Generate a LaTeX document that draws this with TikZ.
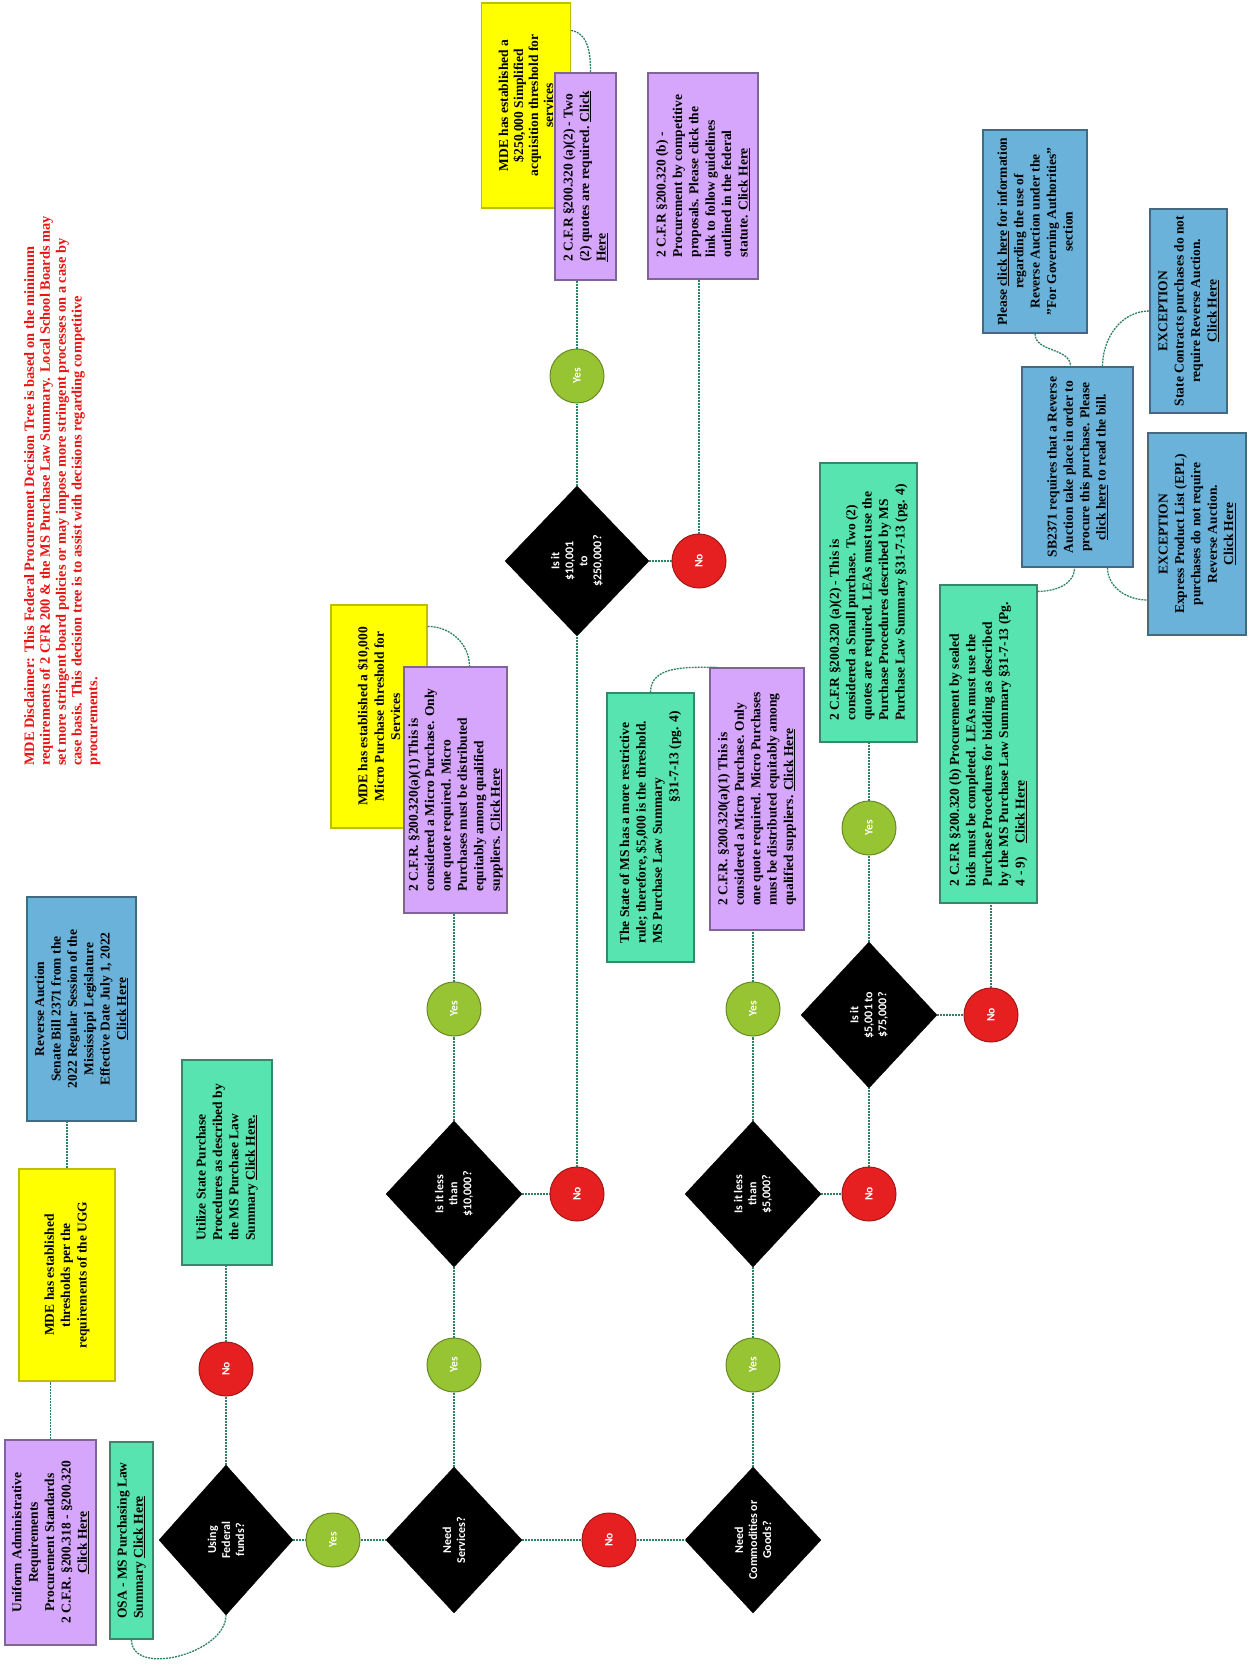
\documentclass[tikz,border=0pt]{standalone}
\usepackage{fontspec}
\setmainfont{Liberation Serif}
\newfontfamily\decfont{Carlito}
\usetikzlibrary{shapes.geometric}

\definecolor{boxpurple}{RGB}{214,166,252}
\definecolor{boxyellow}{RGB}{255,255,0}
\definecolor{boxgreen}{RGB}{88,228,176}
\definecolor{boxblue}{RGB}{107,178,218}
\definecolor{nored}{RGB}{230,32,32}
\definecolor{yesgreen}{RGB}{150,196,50}
\definecolor{linkgreen}{RGB}{46,130,100}
\definecolor{discred}{RGB}{235,20,20}

\begin{document}
\begin{tikzpicture}[x=1pt,y=1pt,
  box/.style={rotate=90, draw, line width=1.2pt, inner sep=3pt,
    font=\fontsize{13.5}{16.4}\selectfont\bfseries},
  purplebox/.style={box, fill=boxpurple, draw=boxpurple!60!black},
  yellowbox/.style={box, fill=boxyellow, draw=boxyellow!75!black},
  greenbox/.style={box, fill=boxgreen, draw=boxgreen!60!black},
  bluebox/.style={box, fill=boxblue, draw=boxblue!60!black},
  decision/.style={diamond, rotate=90, fill=black, draw=black, text=white,
    align=center, inner sep=0pt, minimum width=146, minimum height=136,
    font=\decfont\fontsize{12}{14}\selectfont\bfseries},
  yesdot/.style={circle, rotate=90, fill=yesgreen, draw=yesgreen!70!black, line width=1pt,
    text=white, minimum size=54, inner sep=0pt, font=\decfont\fontsize{11.5}{12}\selectfont\bfseries},
  nodot/.style={yesdot, fill=nored, draw=nored!70!black},
  link/.style={draw=linkgreen, line width=1.3pt, dash pattern=on 2pt off 1pt}]
  \fill[white] (0,0) rectangle (1259,-1675);
  \useasboundingbox (0,0) rectangle (1259,-1675);

  \node[rotate=90, anchor=north west, align=left, inner sep=0pt, text=discred,
    font=\fontsize{14.4}{15.8}\selectfont\bfseries] (disclaimer) at (24,-766)
    {MDE Disclaimer:  This Federal Procurement Decision Tree is based on the minimum\\
     requirements of 2 CFR 200 \& the MS Purchase Law Summary.  Local School Boards may\\
     set more stringent board policies or may impose more stringent processes on a case by\\
     case basis.  This decision tree is to assist with decisions regarding competitive\\
     procurements.}; %Disclaimer

  % left column
  \node[purplebox, align=center, minimum width=205, minimum height=91] (uar) at (50.5,-1542.5)
    {Uniform Administrative\\ Requirements\\ Procurement Standards\\ 2 C.F.R. §200.318 - §200.320\\ \underline{Click Here}};
  \node[yellowbox, align=center, minimum width=212, minimum height=96] (ugg) at (67,-1275)
    {MDE has established\\ thresholds per the\\ requirements of the UGG};
  \node[bluebox, align=center, minimum width=224, minimum height=109] (rauction) at (81.5,-1009)
    {Reverse Auction\\ Senate Bill 2371 from the\\ 2022 Regular Session of the\\ Mississippi Legislature\\ Effective Date July 1, 2022\\ \underline{Click Here}};
  \node[greenbox, align=left, minimum width=197, minimum height=43] (osa) at (131.5,-1540.5)
    {OSA - MS Purchasing Law\\ Summary \underline{Click Here}};
  \node[greenbox, align=left, minimum width=205, minimum height=90] (utilize) at (227,-1162.5)
    {Utilize State Purchase\\ Procedures as described by\\ the MS Purchase Law\\ Summary \underline{Click Here.}};

  % main row
  \node[decision, minimum height=134, minimum width=150] (fed) at (226,-1540) {Using\\ Federal\\ funds?};
  \node[nodot] (no1) at (226,-1369) {No};
  \node[yesdot] (yes1) at (333,-1540) {Yes};
  \node[decision] (services) at (454,-1540) {Need\\ Services?};
  \node[nodot] (no2) at (609,-1540) {No};
  \node[decision] (goods) at (753,-1540) {Need\\ Commodities or\\ Goods?};

  % services branch
  \node[yesdot] (yes2) at (454,-1365) {Yes};
  \node[decision] (less10k) at (454,-1194) {Is it less\\ than\\ \$10,000?};
  \node[yesdot] (yes3) at (454,-1009) {Yes};
  \node[yellowbox, align=center, minimum width=223, minimum height=96] (th10k) at (379,-716.5)
    {MDE has established a \$10,000\\ Micro Purchase threshold for\\ Services};
  \node[purplebox, align=left, minimum width=246, minimum height=103] (micro1) at (455.5,-790)
    {2 C.F.R. §200.320(a)(1) This is\\ considered a Micro Purchase.  Only\\ one quote required.  Micro\\ Purchases must be distributed\\ equitably among qualified\\ suppliers. \underline{Click Here}};
  \node[nodot] (no3) at (577,-1194) {No};
  \node[decision, minimum width=150, minimum height=144] (mid) at (577,-561) {Is it\\ \$10,001\\ to\\ \$250,000?};
  \node[yesdot] (yes4) at (577,-376) {Yes};
  \node[yellowbox, align=center, minimum width=205, minimum height=89,
    font=\fontsize{13.5}{15}\selectfont\bfseries] (th250k) at (526,-105.5)
    {MDE has established a\\ \$250,000 Simplified\\ acquisition threshold for\\ services};
  \node[purplebox, align=left, minimum width=207, minimum height=61] (twoq) at (585.5,-176.5)
    {2 C.F.R §200.320 (a)(2) - Two\\ (2) quotes are required.  \underline{Click}\\ \underline{Here}};
  \node[nodot] (no4) at (699,-561) {No};
  \node[purplebox, align=left, minimum width=206, minimum height=110] (compet) at (703,-176)
    {2 C.F.R §200.320 (b) -\\ Procurement by competitive\\ proposals. Please click the\\ link to follow guidelines\\ outlined in the federal\\ statute. \underline{Click Here}};

  % goods branch
  \node[yesdot] (yes5) at (753,-1365) {Yes};
  \node[decision] (less5k) at (753,-1194) {Is it less\\ than\\ \$5,000?};
  \node[yesdot] (yes6) at (753,-1009) {Yes};
  \node[purplebox, align=left, minimum width=262, minimum height=94] (micro2) at (757,-799)
    {2 C.F.R. §200.320(a)(1) This is\\ considered a Micro Purchase.  Only\\ one quote required.  Micro Purchases\\ must be distributed equitably among\\ qualified suppliers.  \underline{Click Here}};
  \node[greenbox, align=left, minimum width=269, minimum height=87] (msrule) at (650.5,-827.5)
    {The State of MS has a more restrictive\\ rule; therefore,  \$5,000 is the threshold.\\ MS Purchase Law Summary\\ \hspace*{10.5em}§31-7-13 (pg. 4)};
  \node[nodot] (no5) at (869,-1194) {No};
  \node[decision] (mid5k) at (869,-1015) {Is it\\ \$5,001 to\\ \$75,000?};
  \node[yesdot] (yes7) at (869,-828) {Yes};
  \node[greenbox, align=left, minimum width=279, minimum height=97] (small) at (868.5,-602.5)
    {2 C.F.R §200.320 (a)(2) - This is\\ considered a Small purchase.   Two (2)\\ quotes are required. LEAs must use the\\ Purchase Procedures described by MS\\ Purchase Law Summary §31-7-13 (pg. 4)};
  \node[nodot] (no6) at (991,-1015) {No};
  \node[greenbox, align=left, minimum width=318, minimum height=97] (sealed) at (988.5,-744)
    {2 C.F.R §200.320 (b) Procurement by sealed\\ bids must be completed. LEAs must use the\\ Purchase Procedures for bidding as described\\ by the MS Purchase Law Summary §31-7-13 (Pg.\\ 4 - 9)\quad \underline{Click Here}};

  % reverse auction
  \node[bluebox, align=center, minimum width=200, minimum height=111] (sb) at (1077.5,-467)
    {SB2371 requires that a Reverse\\ Auction take place in order to\\ procure this purchase.  Please\\ \underline{click here} to read the bill.};
  \node[bluebox, align=center, minimum width=203, minimum height=104] (pleaseclick) at (1035,-231.5)
    {Please \underline{click here} for information\\ regarding the use of\\ Reverse Auction under the\\ "For Governing Authorities"\\ section};
  \node[bluebox, align=center, minimum width=204, minimum height=77] (exc1) at (1188.5,-311)
    {EXCEPTION\\ State Contracts purchases do not\\ require Reverse Auction.\\ \underline{Click Here}};
  \node[bluebox, align=center, minimum width=202, minimum height=98] (exc2) at (1197,-534)
    {EXCEPTION\\ Express Product List (EPL)\\ purchases do not require\\ Reverse Auction.\\ \underline{Click Here}};

  % connectors
  \draw[link] (uar.east) -- (uar.east |- ugg.west);
  \draw[link] (ugg.east) -- (ugg.east |- rauction.west);
  \draw[link] (osa.west) to[out=-90,in=-90] (fed.west);
  \draw[link] (fed) -- (no1);
  \draw[link] (no1) -- (no1 |- utilize.west);
  \draw[link] (fed) -- (yes1);
  \draw[link] (yes1) -- (services);
  \draw[link] (services) -- (no2);
  \draw[link] (no2) -- (goods);
  \draw[link] (services) -- (yes2);
  \draw[link] (yes2) -- (less10k);
  \draw[link] (less10k) -- (yes3);
  \draw[link] (yes3) -- (yes3 |- micro1.west);
  \draw[link] ([yshift=-22pt]th10k.south east) to[out=0,in=90] ([xshift=14pt]micro1.east);
  \draw[link] (less10k) -- (no3);
  \draw[link] (no3) -- (mid);
  \draw[link] (mid) -- (yes4);
  \draw[link] (yes4) -- (yes4 |- twoq.west);
  \draw[link] ([yshift=-28pt]th250k.south east) to[out=-10,in=90] ([xshift=5pt]twoq.east);
  \draw[link] (mid) -- (no4);
  \draw[link] (no4) -- (no4 |- compet.west);
  \draw[link] (goods) -- (yes5);
  \draw[link] (yes5) -- (less5k);
  \draw[link] (less5k) -- (yes6);
  \draw[link] (yes6) -- (yes6 |- micro2.west);
  \draw[link] (msrule.east) to[out=90,in=180] ([xshift=8pt]micro2.north east);
  \draw[link] (less5k) -- (no5);
  \draw[link] (no5) -- (mid5k);
  \draw[link] (mid5k) -- (yes7);
  \draw[link] (yes7) -- (yes7 |- small.west);
  \draw[link] (mid5k) -- (no6);
  \draw[link] (no6) -- (no6 |- sealed.west);
  \draw[link] ([yshift=-7pt]sealed.south east) to[out=0,in=-90] ([xshift=-3pt]sb.west);
  \draw[link] (pleaseclick.west) to[out=-90,in=90] ([xshift=-7pt]sb.east);
  \draw[link] ([xshift=25pt]sb.east) to[out=90,in=180] (exc1.north);
  \draw[link] ([xshift=30pt]sb.west) to[out=-90,in=180] ([yshift=-66pt]exc2.north);
\end{tikzpicture}
\end{document}
